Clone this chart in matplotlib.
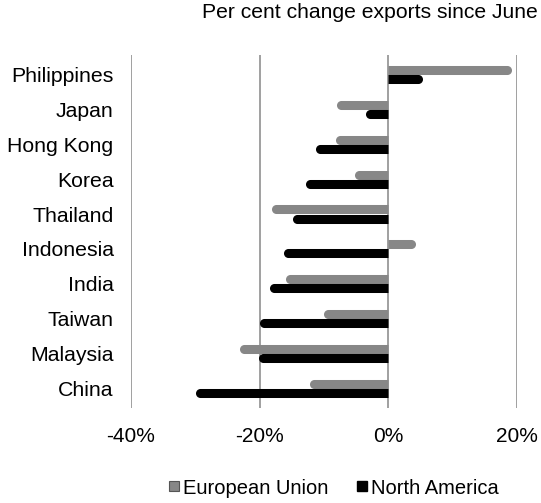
import numpy as np
import matplotlib.pyplot as plt
from matplotlib.lines import Line2D

plt.rcParams['font.family'] = ['Liberation Sans', 'DejaVu Sans']

# ====================== Data ======================
countries = ['Philippines', 'Japan', 'Hong Kong', 'Korea', 'Thailand',
             'Indonesia', 'India', 'Taiwan', 'Malaysia', 'China']
eu = [19.2, -8.0, -8.2, -5.2, -18.2, 4.2, -16.0, -10.0, -23.1, -12.3]
na = [5.4, -3.5, -11.3, -12.8, -14.9, -16.3, -18.5, -20.0, -20.1, -30.0]

eu_color = '#878787'
na_color = '#000000'

# ====================== Plot ======================
fig = plt.figure(figsize=(5.41, 5.03), dpi=100)
ax = fig.add_axes([0.2421, 0.1889, 0.955 - 0.2421, 0.8907 - 0.1889])

y = np.arange(len(countries))
off = 0.13
lw = 6.5            # bar thickness in points
r = 0.7             # rounded end radius in data units

def rounded_bar(yy, v, color):
    s = np.sign(v)
    end = v - s * r
    ax.plot([0, end], [yy, yy], color=color, lw=lw, solid_capstyle='butt', zorder=3)
    ax.plot([end], [yy], 'o', color=color, markersize=lw, markeredgewidth=0, zorder=3)

for i in range(len(countries)):
    rounded_bar(y[i] - off, eu[i], eu_color)
    rounded_bar(y[i] + off, na[i], na_color)

ax.set_xlim(-40, 20)
ax.set_ylim(9.55, -0.55)
for gx in [-40, -20, 0, 20]:
    ax.axvline(gx, color='#999999', lw=1.3, zorder=1)

for sp in ax.spines.values():
    sp.set_visible(False)

ax.set_yticks(y)
ax.set_yticklabels(countries, fontsize=15.3)
ax.set_xticks([-40, -20, 0, 20])
ax.set_xticklabels(['-40%', '-20%', '0%', '20%'], fontsize=15)
ax.tick_params(axis='y', length=0, pad=12.5)
ax.tick_params(axis='x', length=0, pad=14)

fig.text(0.994, 0.976, 'Per cent change exports since June', ha='right', va='center', fontsize=15.2)

handles = [Line2D([], [], marker='s', linestyle='None', markersize=7.5,
                  markerfacecolor=eu_color, markeredgecolor='#555555', markeredgewidth=0.8),
           Line2D([], [], marker='s', linestyle='None', markersize=7.5,
                  markerfacecolor=na_color, markeredgecolor=na_color)]
fig.legend(handles, ['European Union', 'North America'], loc='center',
           bbox_to_anchor=(0.616, 0.0298), ncol=2, frameon=False, fontsize=14.5,
           handlelength=0.6, handletextpad=0.15, columnspacing=1.4)

plt.savefig('out.png', dpi=100)
